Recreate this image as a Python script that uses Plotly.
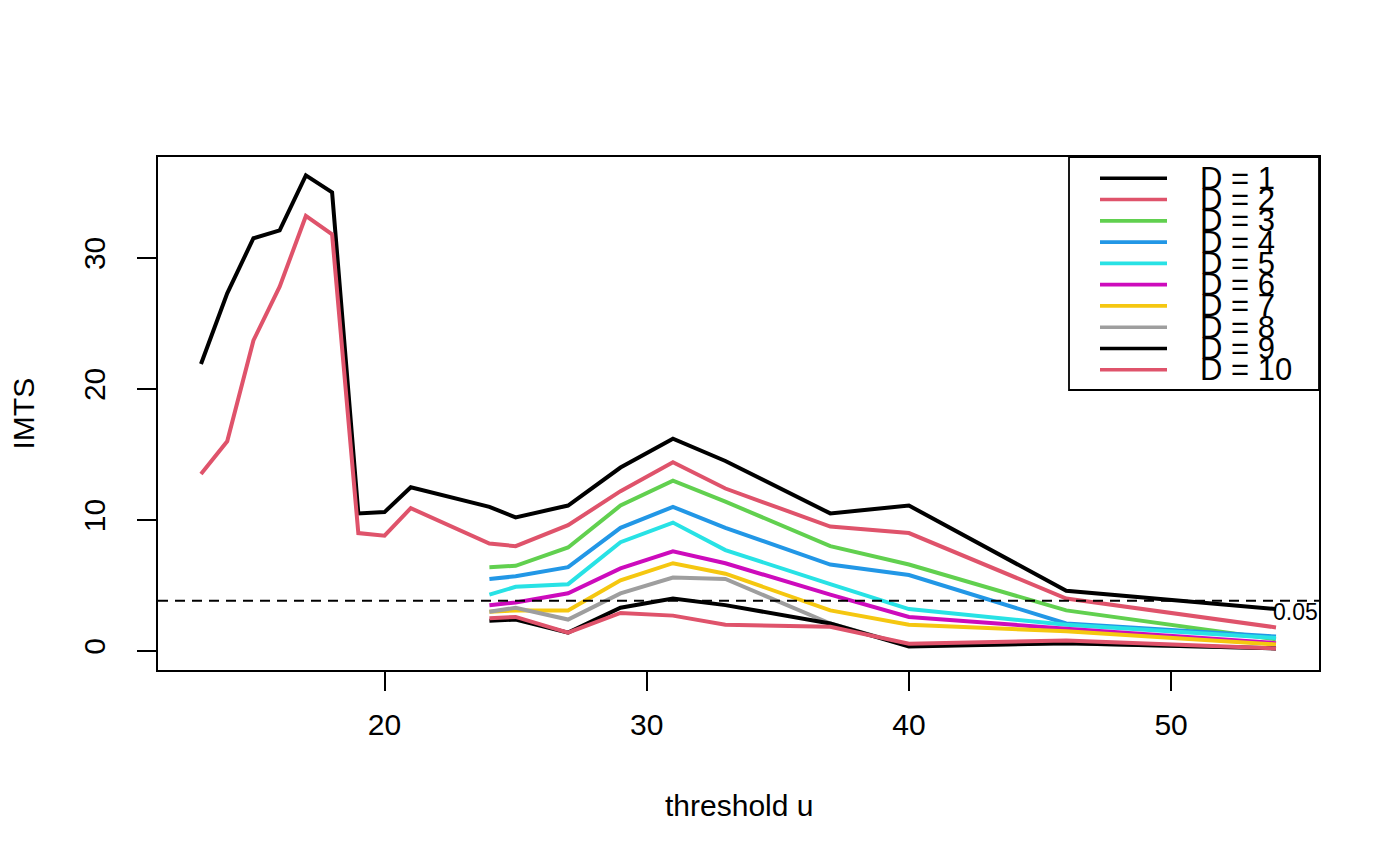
import plotly.graph_objects as go

# ---- data ----
u_full = [13, 14, 15, 16, 17, 18, 19, 20, 21, 24, 25, 27, 29, 31, 33, 37, 40, 46, 54]
u_part = [24, 25, 27, 29, 31, 33, 37, 40, 46, 54]

D1 = [21.9, 27.3, 31.5, 32.1, 36.3, 35.0, 10.5, 10.6, 12.5, 11.0, 10.2, 11.1, 14.0, 16.2, 14.5, 10.5, 11.1, 4.6, 3.2]
D2 = [13.5, 16.0, 23.7, 27.8, 33.2, 31.8, 9.0, 8.8, 10.9, 8.2, 8.0, 9.6, 12.2, 14.4, 12.4, 9.5, 9.0, 4.0, 1.8]
D3 = [6.4, 6.5, 7.9, 11.1, 13.0, 11.4, 8.0, 6.6, 3.1, 0.9]
D4 = [5.5, 5.7, 6.4, 9.4, 11.0, 9.4, 6.6, 5.8, 2.1, 1.1]
D5 = [4.3, 4.9, 5.1, 8.3, 9.8, 7.7, 5.1, 3.2, 2.0, 1.0]
D6 = [3.5, 3.7, 4.4, 6.3, 7.6, 6.7, 4.3, 2.6, 1.7, 0.6]
D7 = [3.0, 3.1, 3.1, 5.4, 6.7, 5.9, 3.1, 2.0, 1.5, 0.5]
D8 = [3.0, 3.3, 2.4, 4.4, 5.6, 5.5, 2.1, 0.4, 0.6, 0.2]
D9 = [2.3, 2.4, 1.4, 3.3, 4.0, 3.5, 2.1, 0.35, 0.6, 0.2]
D10 = [2.5, 2.6, 1.4, 2.9, 2.7, 2.0, 1.85, 0.55, 0.8, 0.2]

series = [D1, D2, D3, D4, D5, D6, D7, D8, D9, D10]
labels = ["D = %d" % k for k in range(1, 11)]
colors = ["#000000", "#DF536B", "#61D04F", "#2297E6", "#28E2E5",
          "#CD0BBC", "#F5C710", "#9E9E9E", "#000000", "#DF536B"]

threshold = 3.841
threshold_label = "0.05"

x_ticks = [20, 30, 40, 50]
y_ticks = [0, 10, 20, 30]

FONT = "Liberation Sans, Arial, Helvetica, sans-serif"

# ---- layout geometry (px) ----
W, H = 1400, 866
L, R, T, B = 158, 1319, 157, 670
pw, ph = R - L, B - T


def px_x(p):
    return (p - L) / pw


def px_y(p):
    return (B - p) / ph


fig = go.Figure()
for i, ys in enumerate(series):
    xs = u_full if len(ys) == len(u_full) else u_part
    fig.add_trace(go.Scatter(x=xs, y=ys, mode="lines", name=labels[i],
                             line=dict(color=colors[i], width=4),
                             showlegend=False, hoverinfo="skip"))

shapes = []
# dashed threshold line across the full plot
shapes.append(dict(type="line", xref="paper", yref="y", x0=0, x1=1,
                   y0=threshold, y1=threshold,
                   line=dict(color="black", width=2, dash="10px,7px")))
# legend box
shapes.append(dict(type="rect", xref="paper", yref="paper",
                   x0=px_x(1069), x1=1, y0=px_y(390), y1=1,
                   line=dict(color="black", width=1.8), fillcolor="white", layer="above"))

annotations = []
row0, drow = 178.3, 21.27
for i, lab in enumerate(labels):
    yy = px_y(row0 + i * drow)
    shapes.append(dict(type="line", xref="paper", yref="paper",
                       x0=px_x(1100), x1=px_x(1167), y0=yy, y1=yy,
                       line=dict(color=colors[i], width=3.6), layer="above"))
for i, lab in enumerate(labels):
    yy = px_y(row0 + i * drow)
    annotations.append(dict(xref="paper", yref="paper", x=px_x(1198), y=yy,
                            text=lab, showarrow=False, xanchor="left", yanchor="middle",
                            font=dict(family=FONT, size=31, color="black")))

annotations.append(dict(xref="x", yref="y", x=54.73, y=2.98, text=threshold_label,
                        showarrow=False, xanchor="center", yanchor="middle",
                        font=dict(family=FONT, size=23, color="black")))
# axis titles
annotations.append(dict(xref="paper", yref="paper", x=0.5, y=px_y(805),
                        text="threshold u", showarrow=False, xanchor="center", yanchor="middle",
                        font=dict(family=FONT, size=30, color="black")))
annotations.append(dict(xref="paper", yref="paper", x=px_x(23), y=0.5,
                        text="IMTS", showarrow=False, xanchor="center", yanchor="middle",
                        textangle=-90,
                        font=dict(family=FONT, size=30, color="black")))

fig.update_layout(
    width=W, height=H,
    margin=dict(l=L, r=W - R, t=T, b=H - B, pad=0),
    paper_bgcolor="white", plot_bgcolor="white",
    font=dict(family=FONT, size=30, color="black"),
    shapes=shapes, annotations=annotations,
    xaxis=dict(range=[11.36, 55.64], tickvals=x_ticks, ticktext=[str(v) for v in x_ticks],
               showgrid=False, zeroline=False, showline=True, mirror=True,
               linecolor="black", linewidth=1.8, ticks="outside", ticklen=19,
               tickwidth=1.8, tickcolor="black", tickfont=dict(size=30),
               ticklabelstandoff=8),
    yaxis=dict(range=[-1.45, 37.7], tickvals=y_ticks, ticktext=[str(v) for v in y_ticks],
               showgrid=False, zeroline=False, showline=True, mirror=True,
               linecolor="black", linewidth=1.8, ticks="outside", ticklen=19,
               tickwidth=1.8, tickcolor="black", tickfont=dict(size=30),
               tickangle=-90, ticklabelstandoff=20),
)

fig.write_html("out.html")
